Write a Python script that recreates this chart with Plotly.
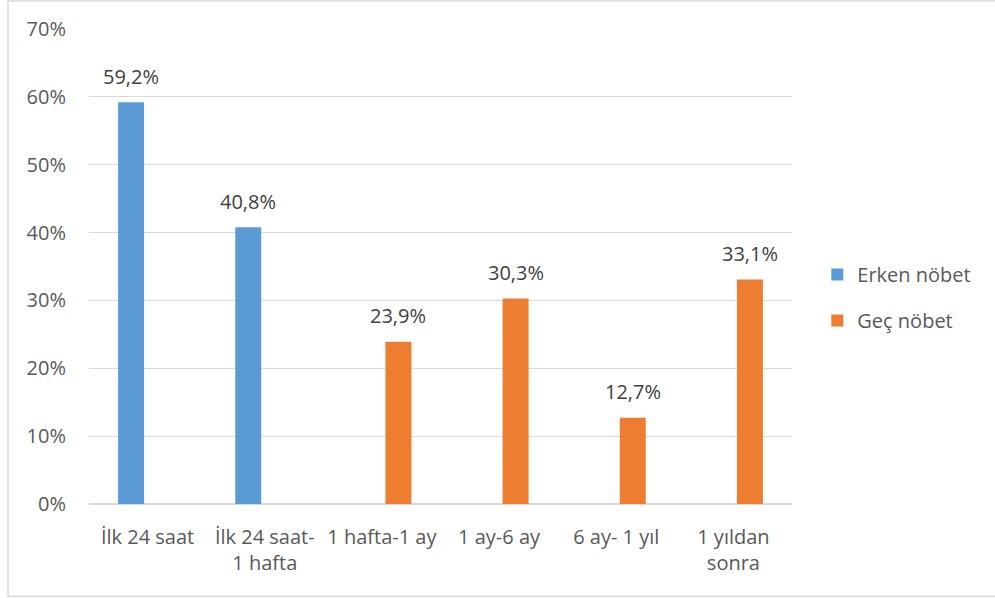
import plotly.graph_objects as go

categories = ["İlk 24 saat", "İlk 24 saat-<br>1 hafta", "1 hafta-1 ay", "1 ay-6 ay", "6 ay- 1 yıl", "1 yıldan<br>sonra"]
erken = [59.2, 40.8, None, None, None, None]
gec = [None, None, 23.9, 30.3, 12.7, 33.1]
series_names = ["Erken nöbet", "Geç nöbet"]
colors = ["#5B9BD5", "#ED7D31"]
y_ticks = [0, 10, 20, 30, 40, 50, 60, 70]

FONT = "Open Sans, Segoe UI, sans-serif"
TXT = "#595959"

fig = go.Figure()
for i, (name, vals) in enumerate(zip(series_names, [erken, gec])):
    fig.add_trace(go.Bar(x=categories, y=vals, name=name, marker=dict(color=colors[i], line=dict(width=0)),
                         legendgroup=f"g{i}", hoverinfo="skip"))

annotations = []
for i, vals in enumerate([erken, gec]):
    shift = -16.5 if i == 0 else 16.5
    for c, v in zip(categories, vals):
        if v is None:
            continue
        annotations.append(dict(x=c, y=v, xref="x", yref="y", text=f"{v:.1f}%".replace(".", ","),
                                showarrow=False, xshift=shift, yshift=26, yanchor="middle",
                                font=dict(family=FONT, size=20, color="#404040")))

fig.update_layout(
    width=995, height=598,
    margin=dict(l=89, r=203, t=29, b=94),
    paper_bgcolor="white", plot_bgcolor="white",
    barmode="group", bargap=0.437, bargroupgap=0.212,
    font=dict(family=FONT, size=20, color=TXT),
    showlegend=True,
    legend=dict(x=1.036, y=0.435, xanchor="left", yanchor="middle",
                font=dict(family=FONT, size=20, color=TXT), tracegroupgap=17,
                bgcolor="rgba(0,0,0,0)"),
    annotations=annotations,
    shapes=[dict(type="rect", xref="paper", yref="paper", x0=-0.1152, x1=1.3, y0=-0.194, y1=1.059,
                 line=dict(color="#d9d9d9", width=1.5), fillcolor="rgba(0,0,0,0)", layer="below")],
)
fig.update_xaxes(showgrid=False, showline=False, ticks="", tickfont=dict(family=FONT, size=20, color=TXT),
                 ticklabelstandoff=19)
fig.update_yaxes(range=[0, 70], tickvals=y_ticks, ticktext=[f"{t}%" for t in y_ticks],
                 showgrid=True, gridcolor="#d9d9d9", gridwidth=1.3,
                 zeroline=True, zerolinecolor="#d9d9d9", zerolinewidth=1.5,
                 showline=False, ticks="", tickfont=dict(family=FONT, size=20, color=TXT),
                 ticklabelstandoff=22)

fig.write_html("out.html")
